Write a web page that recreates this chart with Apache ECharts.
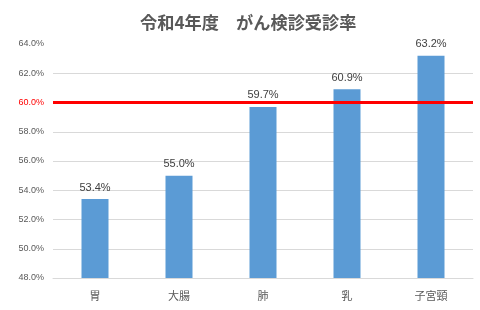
<!DOCTYPE html>
<html><head><meta charset="utf-8">
<script src="https://cdn.jsdelivr.net/npm/echarts@6/dist/echarts.min.js"></script>
<style>html,body{margin:0;padding:0;background:#fff}#c{width:480px;height:310px}</style>
</head><body><div id="c"></div>
<script>
const categories = ['胃', '大腸', '肺', '乳', '子宮頸'];
const rates = [53.4, 55.0, 59.7, 60.9, 63.2];
const targetRate = 60.0;
const yMin = 48, yMax = 64, yStep = 2;
const titleText = '令和4年度　がん検診受診率';

const chart = echarts.init(document.getElementById('c'), null, {renderer: 'canvas'});
const splitColors = [];
for (let v = yMin; v <= yMax; v += yStep) {
  splitColors.push(v === yMax || v === targetRate ? 'rgba(0,0,0,0)' : '#d9d9d9');
}
chart.setOption({
  animation: false,
  title: {
    text: titleText, left: 135, top: 9,
    textStyle: {fontFamily: 'Noto Sans CJK JP', fontSize: 17.2, fontWeight: 'bold', color: '#595959'}
  },
  grid: {left: 53, right: 7, top: 44, bottom: 32},
  xAxis: {
    type: 'category', data: categories,
    axisTick: {show: false},
    axisLine: {lineStyle: {color: '#d9d9d9', width: 1}},
    axisLabel: {fontFamily: 'Noto Sans CJK JP', fontSize: 11, color: '#595959', margin: 12}
  },
  yAxis: {
    type: 'value', min: yMin, max: yMax, interval: yStep,
    axisLine: {show: false}, axisTick: {show: false},
    splitLine: {lineStyle: {color: splitColors, width: 1}},
    axisLabel: {
      fontFamily: 'Liberation Sans', fontSize: 9, margin: 9,
      color: (v) => (Number(v) === targetRate ? '#ff0000' : '#595959'),
      formatter: (v) => v.toFixed(1) + '%'
    }
  },
  series: [{
    type: 'bar', data: rates, barWidth: 27,
    itemStyle: {color: '#5b9bd5'},
    label: {
      show: true, position: 'top', distance: 6,
      fontFamily: 'Liberation Sans', fontSize: 11, color: '#404040',
      formatter: (p) => p.value.toFixed(1) + '%'
    },
    markLine: {
      silent: true, symbol: 'none',
      label: {show: false},
      lineStyle: {color: '#ff0000', width: 3, type: 'solid'},
      data: [{yAxis: targetRate}]
    }
  }]
});
</script></body></html>
